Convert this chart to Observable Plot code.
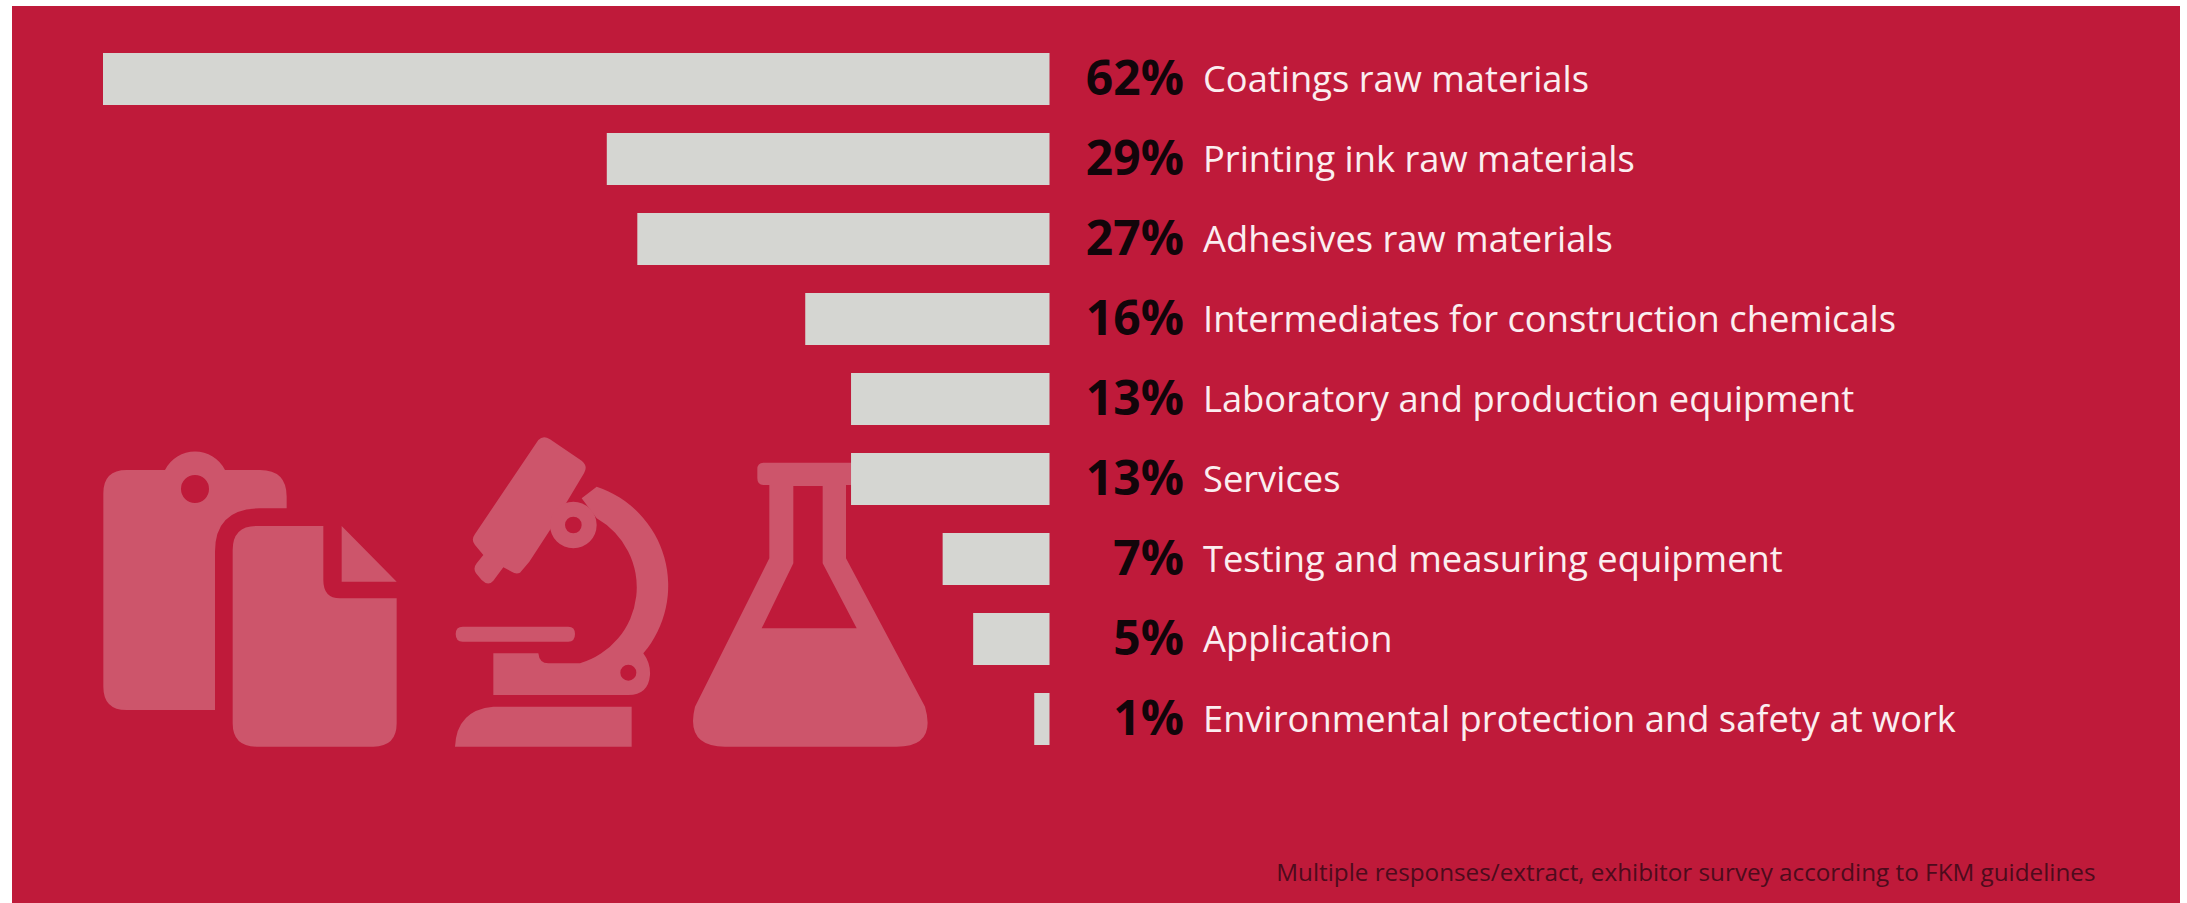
<!DOCTYPE html>
<html>
<head>
<meta charset="utf-8">
<script src="https://cdn.jsdelivr.net/npm/d3@7"></script>
<script src="https://cdn.jsdelivr.net/npm/@observablehq/plot@0.6"></script>
<style>
  html, body { margin: 0; padding: 0; background: #fff; }
  #panel { position: absolute; left: 12px; top: 6px; width: 2168px; height: 897px; background: #bf1a3a; }
  #chart { position: absolute; left: 0; top: 0; }
  #chart svg { background: transparent; display: block; }
</style>
</head>
<body>
<div id="panel"></div>
<div id="chart"></div>
<script>
const categories = [
  "Coatings raw materials",
  "Printing ink raw materials",
  "Adhesives raw materials",
  "Intermediates for construction chemicals",
  "Laboratory and production equipment",
  "Services",
  "Testing and measuring equipment",
  "Application",
  "Environmental protection and safety at work"
];
const shares = [62, 29, 27, 16, 13, 13, 7, 5, 1];
const footnote = ["Multiple responses/extract, exhibitor survey according to FKM guidelines"];

const rows = categories.map((category, i) => ({category, share: shares[i]}));

const iconFill = "#cd556b";
const iconShapes = [
  {at: [90, 440], d: "M110 90H225A101 101 0 0 1 405 90H510Q590 90 590 170V205H510Q375 205 375 335V810H110Q40 810 40 740V160Q40 90 110 90ZM357 147A42 42 0 1 0 273 147A42 42 0 1 0 357 147Z"},
  {at: [90, 440], d: "M500 258H700V420Q700 475 750 475H920V850Q920 920 850 920H500Q428 920 428 850V330Q428 258 500 258ZM755 258L920 425H755Z"},
  {at: [440, 430], d: "M295 30Q310 15 330 28L425 92Q445 108 432 130L330 300L268 395L240 428Q228 434 215 425L190 412L160 452Q145 470 125 450L108 430Q98 415 110 400L130 375L105 345Q92 330 105 312Z"},
  {at: [440, 430], d: "M425 205L470 170A313 313 0 0 1 610 670Q632 700 630 735Q625 795 565 795H160V670H295Q298 700 325 700H420A238 238 0 0 0 470 265ZM589 728A24 24 0 1 0 541 728A24 24 0 1 0 589 728Z"},
  {at: [440, 430], d: "M470 285A70 70 0 1 0 330 285A70 70 0 1 0 470 285ZM425 285A25 25 0 1 1 375 285A25 25 0 1 1 425 285Z"},
  {at: [440, 430], d: "M68 590H385Q405 590 405 612Q405 635 385 635H68Q47 635 47 612Q47 590 68 590Z"},
  {at: [440, 430], d: "M575 830V950H45Q50 840 160 830Z"},
  {at: [680, 450], d: "M250 38H520V105H498V325L735 770Q770 890 650 890H135Q15 890 45 770L268 325V105H250Q232 105 232 85V58Q232 38 250 38ZM340 108H428V340L530 535H245L340 340Z"}
];

function icons() {
  const g = d3.create("svg:g").attr("aria-label", "icons");
  g.selectAll("path").data(iconShapes).join("path")
    .attr("d", s => s.d)
    .attr("fill", iconFill)
    .attr("fill-rule", "evenodd")
    .attr("transform", s => `translate(${s.at[0]},${s.at[1]}) scale(${1 / 3})`);
  return g.node();
}

const font = "'Open Sans', sans-serif";

const chart = Plot.plot({
  width: 2187,
  height: 903,
  margin: 0,
  style: {background: "transparent", fontFamily: font},
  x: {domain: [0, 62], range: [1049.5, 103], axis: null},
  y: {domain: categories, range: [24, 773], padding: 0.35, axis: null},
  marks: [
    icons,
    Plot.barX(rows, {x1: () => 0, x2: "share", y: "category", fill: "#d5d6d2"}),
    Plot.text(rows, {
      x: () => 0, y: "category", text: d => `${d.share}%`,
      dx: 134, textAnchor: "end", fontSize: 48, fontWeight: 700, fill: "#12050a", fontFamily: font
    }),
    Plot.text(rows, {
      x: () => 0, y: "category", text: "category",
      dx: 153, dy: 1, textAnchor: "start", fontSize: 36.3, fill: "#fbeef0", fontFamily: font
    }),
    Plot.text(footnote, {
      frameAnchor: "bottom-right", text: d => d, dx: -92, dy: -23,
      fontSize: 24.25, fill: "#4d0b1c", fontFamily: font
    })
  ]
});
document.getElementById("chart").append(chart);
</script>
</body>
</html>
